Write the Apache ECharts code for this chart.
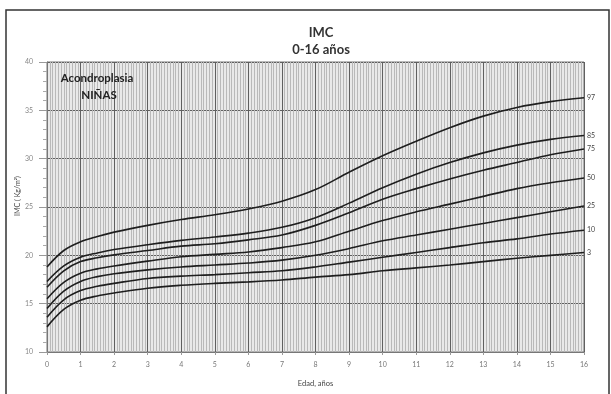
<!DOCTYPE html>
<html>
<head>
<meta charset="utf-8">
<script src="https://cdn.jsdelivr.net/npm/echarts@6/dist/echarts.min.js"></script>
<style>html,body{margin:0;padding:0;background:#fff}#c{width:611px;height:394px}</style>
</head>
<body>
<div id="c"></div>
<script>
const ages = [0, 0.5, 1, 1.5, 2, 3, 4, 5, 6, 7, 8, 9, 10, 11, 12, 13, 14, 15, 16];
const p97 = [18.8, 20.5, 21.4, 21.95, 22.4, 23.1, 23.7, 24.2, 24.8, 25.6, 26.8, 28.6, 30.3, 31.8, 33.2, 34.4, 35.3, 35.9, 36.3];
const p85 = [17.3, 18.9, 19.8, 20.25, 20.6, 21.1, 21.55, 21.9, 22.3, 22.9, 23.9, 25.4, 27.0, 28.4, 29.6, 30.6, 31.4, 32.0, 32.4];
const p75 = [16.7, 18.4, 19.35, 19.75, 20.05, 20.5, 20.95, 21.2, 21.6, 22.1, 23.1, 24.4, 25.8, 26.9, 27.9, 28.8, 29.6, 30.4, 31.0];
const p50 = [15.5, 17.2, 18.15, 18.6, 18.9, 19.4, 19.85, 20.1, 20.35, 20.8, 21.4, 22.5, 23.6, 24.5, 25.3, 26.1, 26.9, 27.5, 28.0];
const p25 = [14.5, 16.3, 17.3, 17.8, 18.1, 18.5, 18.8, 19.0, 19.2, 19.5, 20.0, 20.7, 21.5, 22.1, 22.7, 23.3, 23.9, 24.5, 25.1];
const p10 = [13.6, 15.4, 16.35, 16.8, 17.1, 17.6, 17.85, 18.0, 18.2, 18.4, 18.8, 19.3, 19.8, 20.3, 20.8, 21.3, 21.7, 22.2, 22.6];
const p3  = [12.6, 14.4, 15.35, 15.8, 16.1, 16.6, 16.9, 17.1, 17.25, 17.45, 17.75, 18.0, 18.4, 18.7, 19.0, 19.35, 19.7, 20.0, 20.3];
const seriesNames = ['97', '85', '75', '50', '25', '10', '3'];
const seriesValues = [p97, p85, p75, p50, p25, p10, p3];
const titleText = 'IMC';
const subTitleText = '0-16 años';
const boxText = ['Acondroplasia', 'NIÑAS'];
const xName = 'Edad, años';
const yName = 'IMC ( Kg/m²)';

const FONT = 'Lato, "Open Sans", sans-serif';
const chart = echarts.init(document.getElementById('c'), null, {renderer: 'canvas'});

const series = seriesNames.map((n, i) => ({
  name: n,
  type: 'line',
  smooth: 0.35,
  showSymbol: false,
  silent: true,
  lineStyle: {color: '#1e1e1e', width: 1.6},
  data: ages.map((a, j) => [a, seriesValues[i][j]]),
  endLabel: {show: true, formatter: '{a}', fontSize: 7, color: '#444', distance: 3, fontFamily: FONT},
  z: 5
}));

chart.setOption({
  animation: false,
  backgroundColor: '#fff',
  textStyle: {fontFamily: FONT},
  title: {
    text: titleText + '\n' + subTitleText,
    left: 316, top: 19, textAlign: 'center',
    textStyle: {fontSize: 13, fontWeight: 'bold', color: '#333', lineHeight: 17, fontFamily: FONT}
  },
  grid: {left: 47, top: 62, right: 27, bottom: 42, show: true, backgroundColor: '#e9e9e9', borderColor: '#777', borderWidth: 1},
  xAxis: {
    type: 'value', min: 0, max: 16, interval: 1,
    name: xName, nameLocation: 'middle', nameGap: 28,
    nameTextStyle: {fontSize: 7.5, color: '#444', fontFamily: FONT},
    axisLine: {show: true, lineStyle: {color: '#777'}},
    axisTick: {show: true, length: 3, lineStyle: {color: '#999'}},
    axisLabel: {fontSize: 7, color: '#777', margin: 9},
    splitLine: {show: true, lineStyle: {color: '#606060', width: 1}},
    minorTick: {show: false, splitNumber: 12},
    minorSplitLine: {show: true, lineStyle: {color: '#b9b9b9', width: 1}}
  },
  yAxis: {
    type: 'value', min: 10, max: 40, interval: 5,
    axisLine: {show: true, lineStyle: {color: '#777'}},
    axisTick: {show: true, length: 8, lineStyle: {color: '#999'}},
    minorTick: {show: true, splitNumber: 5, length: 4, lineStyle: {color: '#aaa'}},
    axisLabel: {fontSize: 7, color: '#888', margin: 14},
    splitLine: {show: true, lineStyle: {color: '#606060', width: 1}}
  },
  graphic: [
    {type: 'rect', shape: {x: 6, y: 10, width: 603, height: 400}, style: {fill: 'none', stroke: '#333', lineWidth: 1.5}, z: 100},
    {type: 'text', x: 18, y: 196, rotation: Math.PI / 2, style: {text: yName, fontSize: 7, fill: '#444', textAlign: 'center', textVerticalAlign: 'middle', fontFamily: FONT}, z: 100},
    {type: 'text', x: 97, y: 78, style: {text: boxText[0], fontSize: 11.5, fontWeight: 'bold', fill: '#222', textAlign: 'center', textVerticalAlign: 'middle', fontFamily: FONT}, z: 100},
    {type: 'text', x: 99, y: 95, style: {text: boxText[1], fontSize: 11.5, fontWeight: 'bold', fill: '#222', textAlign: 'center', textVerticalAlign: 'middle', fontFamily: FONT}, z: 100}
  ],
  series: series
});
</script>
</body>
</html>
